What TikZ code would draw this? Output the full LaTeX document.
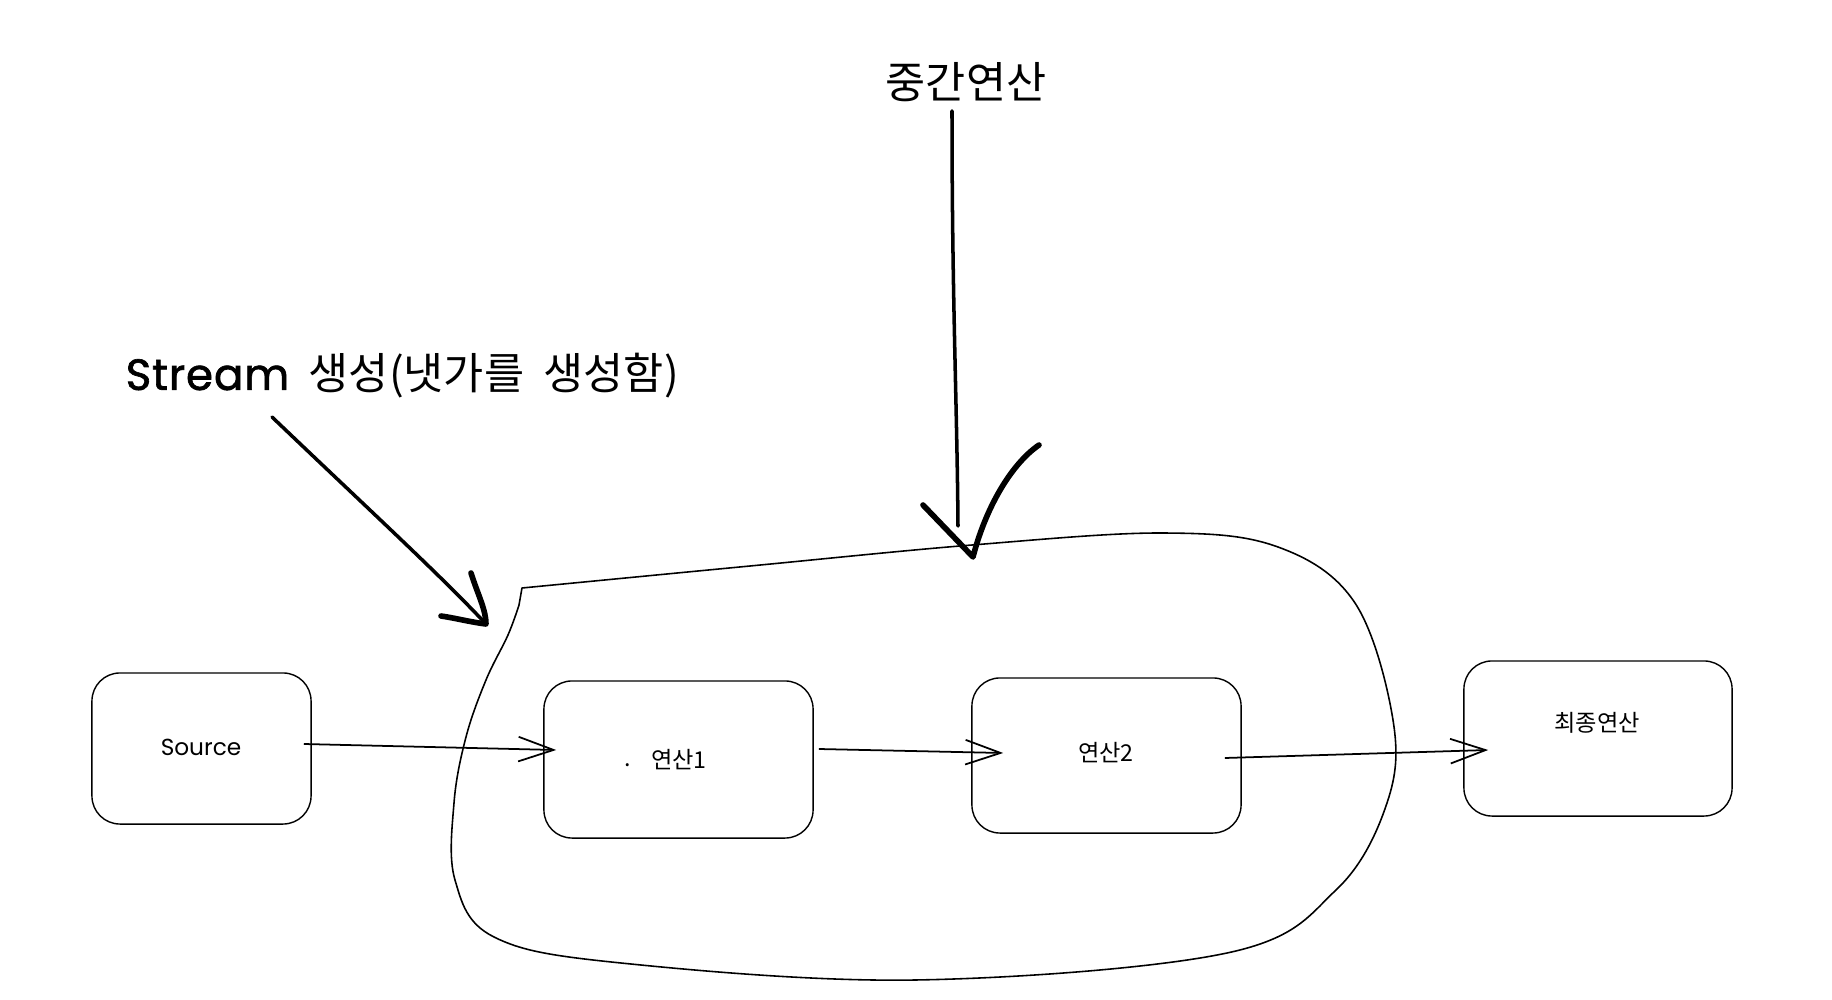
\documentclass[tikz,border=0pt]{standalone}
\usepackage{fontspec}
\setmainfont{Noto Sans CJK KR}
\newfontfamily\hand{Poppins}
\usetikzlibrary{arrows.meta,calc}
\begin{document}
\begin{tikzpicture}[x=0.01cm,y=-0.01cm,
  box/.style={draw, line width=0.4pt, rounded corners=0.28cm, inner sep=0pt},
  boxlabel/.style={font=\fontsize{6.6}{7.5}\selectfont, inner sep=0pt},
  big/.style={font=\fontsize{12.4}{14}\selectfont, inner sep=0pt},
  conn/.style={line width=0.5pt, -{Straight Barb[length=10pt,width=7pt]}},
  pen/.style={line width=1pt, line cap=round, line join=round},
  penhead/.style={line width=1.6pt, line cap=round, line join=round},
  blob/.style={line width=0.45pt, line join=round}]
\useasboundingbox (0,0) rectangle (1832,1000);

% boxes
\node[box, minimum width=2.19cm, minimum height=1.51cm] (src) at (201.5,748.5) {};
\node[box, minimum width=2.69cm, minimum height=1.57cm] (op1) at (678.5,759.5) {};
\node[box, minimum width=2.69cm, minimum height=1.55cm] (op2) at (1106.5,755.5) {};
\node[box, minimum width=2.68cm, minimum height=1.55cm] (fin) at (1598,738.5) {};

% box labels
\node[boxlabel, font=\hand\fontsize{6.6}{7.5}\selectfont] (srct) at (201,747) {Source};
\node[boxlabel] (op1dot) at (628,765) {.};
\node[boxlabel] (op1t) at (679,760) {연산1};
\node[boxlabel] (op2t) at (1106,753) {연산2};
\node[boxlabel] (fint) at (1597,723) {최종연산};

% annotations
\node[big, anchor=west] (stream) at (125,376) {{\hand\addfontfeature{LetterSpace=2,FakeBold=1.5}Stream}\hspace{0.45em}생성(냇가를\ \ 생성함)};
\node[big] (mid) at (966,82) {중간연산};

% blob (intermediate operations region)
\draw[blob] (522,588) -- plot[smooth, tension=0.6] coordinates {(522,588) (750,566) (972,545) (1163,533) (1278,547) (1355,603) (1393,720) (1387,803) (1336,890) (1227,953) (915,980) (621,963) (494,937) (455,880) (454,803) (466,737) (486,680) (508,635) (519,605)} -- cycle;

% connectors
\draw[conn] ($(src.east)+(-8,-4.5)$) -- ($(op1.west)+(13,-9.5)$);
\draw[conn] ($(op1.east)+(5,-10.5)$) -- ($(op2.west)+(32,-2.5)$);
\draw[conn] ($(op2.east)+(-17,2.5)$) -- ($(fin.west)+(25,11.5)$);

% annotation arrows
\coordinate (s1) at (272,417);
\coordinate (s1tip) at (486,624);
\draw[pen] (s1) .. controls (380,520) and (440,575) .. (s1tip);
\draw[penhead] (471,573) .. controls (478,595) and (486,610) .. (s1tip) .. controls (470,622) and (455,618) .. (441,616);

\coordinate (m1) at (952,111);
\coordinate (m1end) at (958,526);
\coordinate (m1tip) at (973,557);
\draw[pen] (m1) .. controls (952,300) and (957,400) .. (m1end);
\draw[penhead] (923,505) -- (m1tip) .. controls (985,510) and (1010,465) .. (1039,445);
\end{tikzpicture}
\end{document}
